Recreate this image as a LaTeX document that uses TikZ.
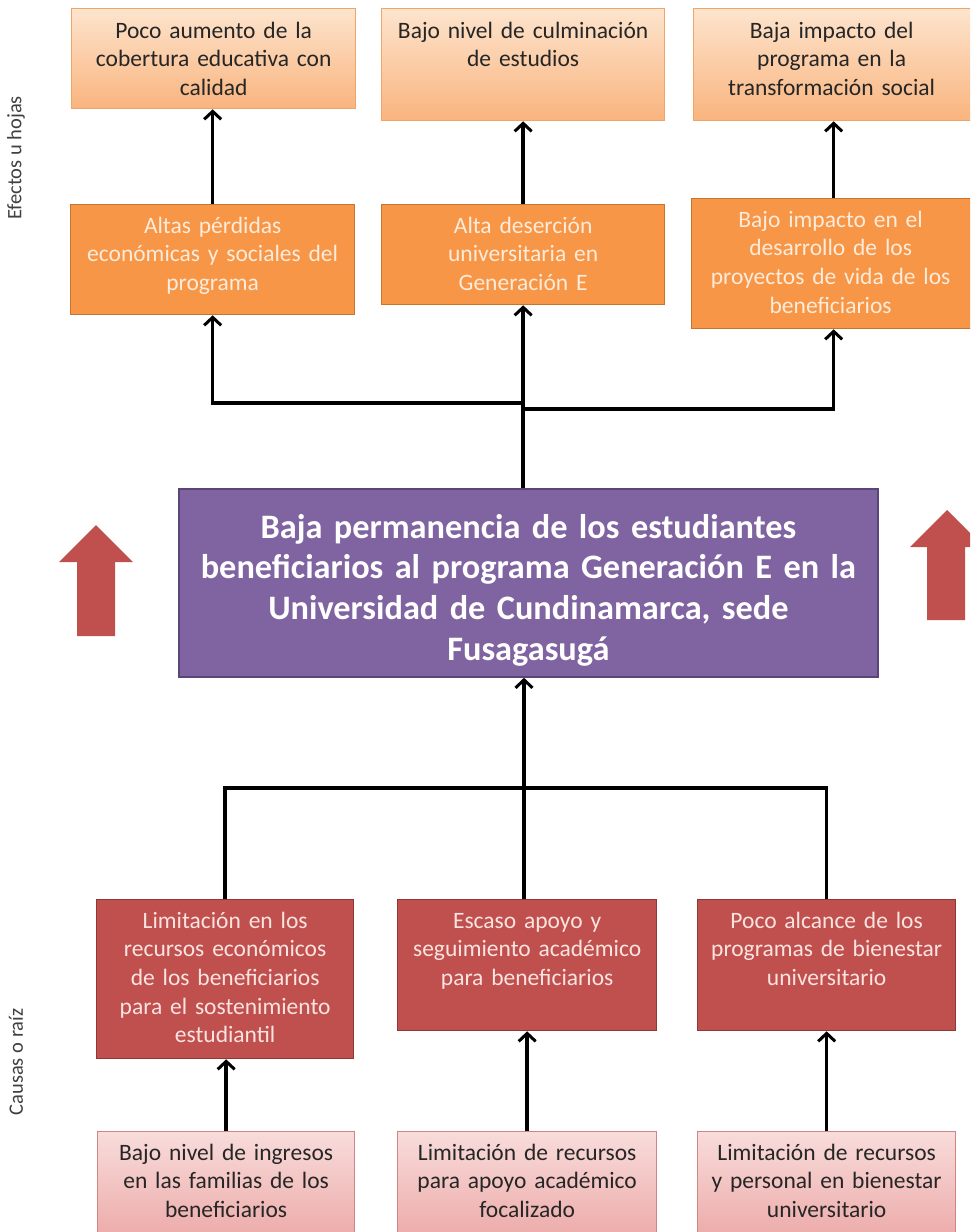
\documentclass[tikz,border=0pt]{standalone}
\usepackage{fontspec}
\setmainfont{Carlito}
\usetikzlibrary{arrows.meta,calc}
\definecolor{lorTop}{HTML}{FDE4CD}
\definecolor{lorBot}{HTML}{F9B47E}
\definecolor{lorLine}{HTML}{EFA46A}
\definecolor{orFill}{HTML}{F79646}
\definecolor{orLine}{HTML}{C7742F}
\definecolor{orText}{HTML}{FDEBDB}
\definecolor{puFill}{HTML}{8064A2}
\definecolor{puLine}{HTML}{5A4578}
\definecolor{reFill}{HTML}{C0504D}
\definecolor{reLine}{HTML}{8E3734}
\definecolor{reText}{HTML}{FBE3E2}
\definecolor{piTop}{HTML}{F8DCDB}
\definecolor{piBot}{HTML}{ECA9A7}
\definecolor{piLine}{HTML}{CF8583}
\definecolor{darkText}{HTML}{262626}
\definecolor{sideText}{HTML}{404040}
\tikzset{
  boxbase/.style={rectangle, inner sep=0pt, anchor=north west, line width=1.3pt},
  lightor/.style={boxbase, draw=lorLine, top color=lorTop, bottom color=lorBot},
  orbox/.style={boxbase, draw=orLine, fill=orFill},
  pubox/.style={boxbase, draw=puLine, fill=puFill, line width=1.8pt},
  rebox/.style={boxbase, draw=reLine, fill=reFill},
  pibox/.style={boxbase, draw=piLine, top color=piTop, bottom color=piBot},
  txt/.style={anchor=base, align=center, inner sep=0pt, font=\fontsize{23.5}{28.7}\selectfont},
  dtxt/.style={txt, text=darkText},
  otxt/.style={txt, text=orText},
  rtxt/.style={txt, text=reText},
  ptxt/.style={anchor=base, align=center, inner sep=0pt, text=white, font=\fontsize{34.3}{40.7}\selectfont\bfseries},
  sidelbl/.style={rotate=90, text=sideText, font=\fontsize{20.5}{23}\selectfont, inner sep=0pt},
  conn/.style={line width=3.4pt, black},
  arr/.style={conn, -{Straight Barb[length=8pt, width=17pt, line width=3pt]}},
  blockarrow/.style={fill=reFill, draw=none}
}
\begin{document}
\begin{tikzpicture}[x=1pt, y=-1pt]
\useasboundingbox (0,0) rectangle (970,1232);
\clip (0,0) rectangle (970,1232);
\fill[white] (0,0) rectangle (970,1232);

% side labels
\node[sidelbl] (lblE) at (16,158) {Efectos u hojas};
\node[sidelbl] (lblC) at (16,1062) {Causas o raíz};

% top row (effects, light orange)
\node[lightor, minimum width=284, minimum height=100] (b1) at (71,8) {};
\node[lightor, minimum width=283, minimum height=112] (b2) at (381,8) {};
\node[lightor, minimum width=282, minimum height=112] (b3) at (693,8) {};
\node[dtxt, text width=270] (t1) at ($(b1.north)+(0,30)$) {Poco aumento de la\\cobertura educativa con\\calidad};
\node[dtxt, text width=270] (t2) at ($(b2.north)+(0,30)$) {Bajo nivel de culminación\\de estudios};
\node[dtxt, text width=270] (t3) at ($(b3.north)+(-3,30)$) {Baja impacto del\\programa en la\\transformación social};

% second row (orange)
\node[orbox, minimum width=284, minimum height=110] (b4) at (70,204) {};
\node[orbox, minimum width=283, minimum height=100] (b5) at (381,204) {};
\node[orbox, minimum width=284, minimum height=130] (b6) at (691,198) {};
\node[otxt, text width=270] (t4) at ($(b4.north)+(0,29)$) {Altas pérdidas\\económicas y sociales del\\programa};
\node[otxt, text width=270] (t5) at ($(b5.north)+(0,29)$) {Alta deserción\\universitaria en\\Generación E};
\node[otxt, text width=270] (t6) at ($(b6.north)+(-3,29)$) {Bajo impacto en el\\desarrollo de los\\proyectos de vida de los\\beneficiarios};

% central problem
\node[pubox, minimum width=699, minimum height=188] (P) at (178,488) {};
\node[ptxt, text width=690] (tP) at ($(P.north)+(0,50)$) {Baja permanencia de los estudiantes\\beneficiarios al programa Generación E en la\\Universidad de Cundinamarca, sede\\Fusagasugá};

% block arrows
\fill[blockarrow] (96,525) -- (133,562) -- (115,562) -- (115,636) -- (77,636) -- (77,562) -- (59,562) -- cycle;
\fill[blockarrow] (947,510) -- (984,547) -- (965,547) -- (965,620) -- (927,620) -- (927,547) -- (910,547) -- cycle;

% causes (red)
\node[rebox, minimum width=257, minimum height=159] (b7) at (96,899) {};
\node[rebox, minimum width=259, minimum height=131] (b8) at (397,899) {};
\node[rebox, minimum width=258, minimum height=131] (b9) at (697,899) {};
\node[rtxt, text width=245] (t7) at ($(b7.north)+(0,29)$) {Limitación en los\\recursos económicos\\de los beneficiarios\\para el sostenimiento\\estudiantil};
\node[rtxt, text width=245] (t8) at ($(b8.north)+(0,29)$) {Escaso apoyo y\\seguimiento académico\\para beneficiarios};
\node[rtxt, text width=245] (t9) at ($(b9.north)+(0,29)$) {Poco alcance de los\\programas de bienestar\\universitario};

% root causes (pink)
\node[pibox, minimum width=257, minimum height=110] (b10) at (97,1131) {};
\node[pibox, minimum width=259, minimum height=110] (b11) at (397,1131) {};
\node[pibox, minimum width=258, minimum height=110] (b12) at (697,1131) {};
\node[dtxt, text width=245] (t10) at ($(b10.north)+(0,29)$) {Bajo nivel de ingresos\\en las familias de los\\beneficiarios};
\node[dtxt, text width=245] (t11) at ($(b11.north)+(0,29)$) {Limitación de recursos\\para apoyo académico\\focalizado};
\node[dtxt, text width=245] (t12) at ($(b12.north)+(0,29)$) {Limitación de recursos\\y personal en bienestar\\universitario};

% connectors: effects
\draw[arr] (b4.north) -- (b1.south -| b4.north);
\draw[arr] (b5.north) -- (b2.south -| b5.north);
\draw[arr] (b6.north) -- (b3.south -| b6.north);
\coordinate (jtL) at (523,403);
\coordinate (jtR) at (523,409);
\draw[arr] (P.north -| b5.south) -- (b5.south);
\draw[arr] (jtL) -| (b4.south);
\draw[arr] (jtR) -| (b6.south);

% connectors: causes
\coordinate (jb) at (524,788);
\draw[arr] (jb) -- (jb |- P.south);
\draw[conn] (b7.north) -- (b7.north |- jb) -- (b9.north |- jb) -- (b9.north);
\draw[conn] (jb) -- (jb |- b8.north);
\draw[arr] (b10.north) -- (b7.south -| b10.north);
\draw[arr] (b11.north) -- (b8.south -| b11.north);
\draw[arr] (b12.north) -- (b9.south -| b12.north);
\end{tikzpicture}
\end{document}
